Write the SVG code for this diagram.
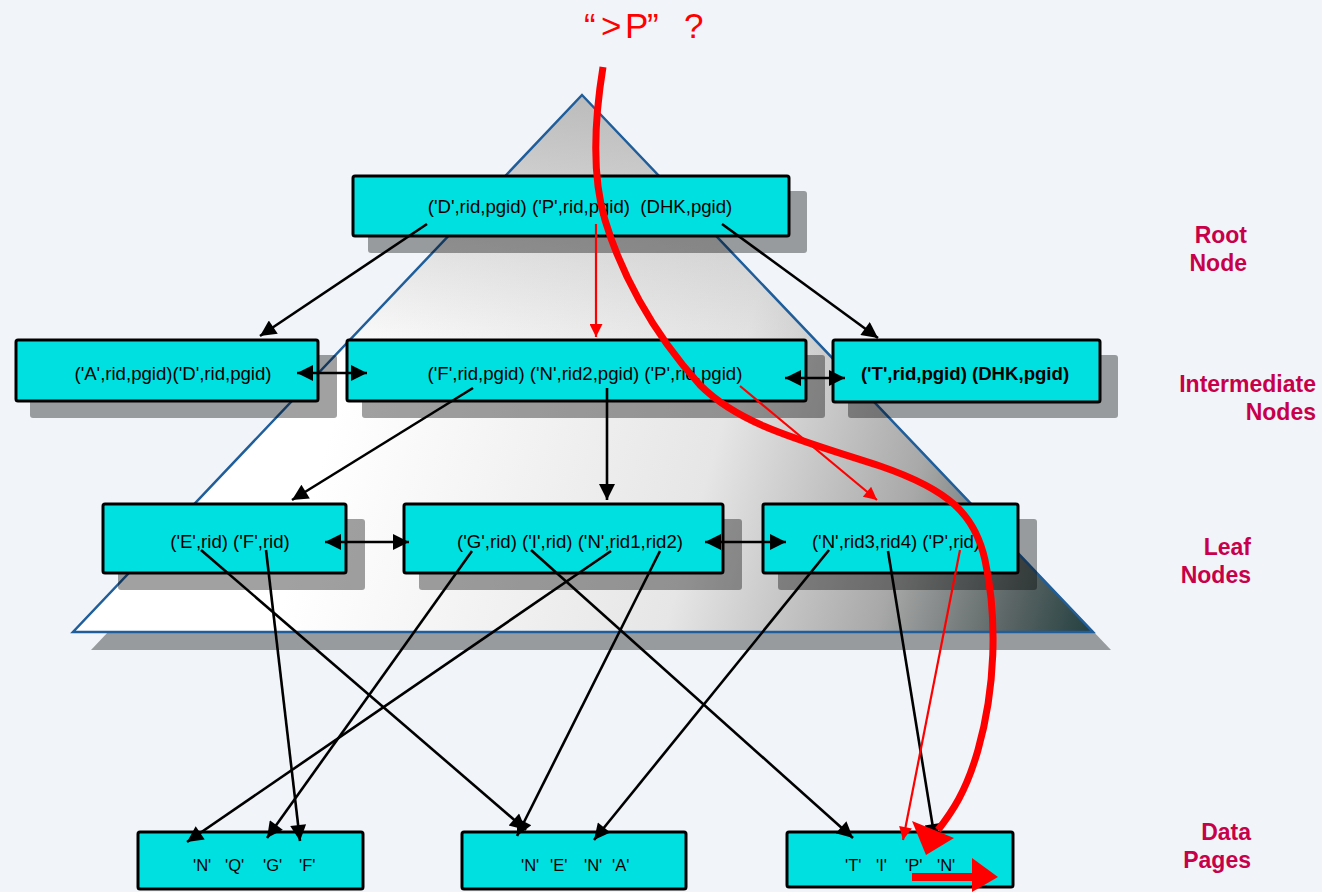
<svg xmlns="http://www.w3.org/2000/svg" width="1322" height="892" viewBox="0 0 1322 892">
  <style>
    .node rect.box { fill: #00E0E0; stroke: #000; stroke-width: 3; }
    .node rect.shadow { fill: #000; fill-opacity: 0.37; }
    .node text { font-family: "Liberation Sans", Arial, sans-serif; font-size: 18.6px; fill: #000; text-anchor: middle; }
    .node text.bold { font-weight: bold; }
    .node text.page { font-size: 16.5px; text-anchor: start; }
    .label { font-family: "Liberation Sans", Arial, sans-serif; font-size: 23px; font-weight: bold; fill: #C8004A; text-anchor: end; }
    .link { stroke: #000; stroke-width: 2.6; fill: none; }
    .link.both { marker-start: url(#ahb); marker-end: url(#ah); }
    .link.one { marker-end: url(#ah); }
    .hot { stroke: #FF0000; stroke-width: 2.2; fill: none; marker-end: url(#ahr); }
    .path { stroke: #FF0000; stroke-width: 7; fill: none; stroke-linecap: butt; }
  </style>
  <defs>
    <marker id="ah" viewBox="0 0 10 10" refX="10" refY="5" markerWidth="20" markerHeight="16" markerUnits="userSpaceOnUse" orient="auto">
      <path d="M0,0 L10,5 L0,10 z" fill="#000"/>
    </marker>
    <marker id="ahb" viewBox="0 0 10 10" refX="0" refY="5" markerWidth="20" markerHeight="16" markerUnits="userSpaceOnUse" orient="auto">
      <path d="M10,0 L0,5 L10,10 z" fill="#000"/>
    </marker>
    <marker id="ahr" viewBox="0 0 10 10" refX="10" refY="5" markerWidth="17" markerHeight="13" markerUnits="userSpaceOnUse" orient="auto">
      <path d="M0,0 L10,5 L0,10 z" fill="#FF0000"/>
    </marker>
    <linearGradient id="pyrFill" gradientUnits="userSpaceOnUse" x1="330" y1="430" x2="1085" y2="640">
      <stop offset="0" stop-color="#FFFFFF"/>
      <stop offset="0.48" stop-color="#E6E6E6"/>
      <stop offset="0.74" stop-color="#A8A8A8"/>
      <stop offset="0.9" stop-color="#5A6464"/>
      <stop offset="1" stop-color="#274242"/>
    </linearGradient>
    <linearGradient id="pyrTop" gradientUnits="userSpaceOnUse" x1="0" y1="95" x2="0" y2="360">
      <stop offset="0" stop-color="#A8A8A8" stop-opacity="0.75"/>
      <stop offset="1" stop-color="#A8A8A8" stop-opacity="0"/>
    </linearGradient>
  </defs>

  <!-- background -->
  <rect x="0" y="0" width="1322" height="892" fill="#F1F5F9"/>

  <!-- tree pyramid -->
  <g id="pyramid">
    <polygon points="600,113 1111,650 91,650" fill="#000" fill-opacity="0.37"/>
    <polygon points="582,95 1093,632 73,632" fill="url(#pyrFill)"/>
    <polygon points="582,95 1093,632 73,632" fill="url(#pyrTop)" stroke="#1F5E9A" stroke-width="2.5"/>
  </g>

  <!-- query title -->
  <text font-family="'Liberation Sans', Arial, sans-serif" font-size="35" fill="#FF0000"><tspan x="584" y="38">“</tspan><tspan x="601" y="38">&gt;</tspan><tspan x="625" y="38">P</tspan><tspan x="647" y="38">”</tspan><tspan x="684" y="38">?</tspan></text>

  <!-- level labels -->
  <text class="label" x="1247" y="243">Root</text>
  <text class="label" x="1247" y="271">Node</text>
  <text class="label" x="1316" y="392">Intermediate</text>
  <text class="label" x="1316" y="420">Nodes</text>
  <text class="label" x="1251" y="555">Leaf</text>
  <text class="label" x="1251" y="583">Nodes</text>
  <text class="label" x="1251" y="840">Data</text>
  <text class="label" x="1251" y="868">Pages</text>

  <!-- root -->
  <g id="root" class="node">
    <rect class="shadow" x="368" y="191" width="439" height="62" rx="3"/>
    <rect class="box" x="353" y="176" width="436" height="60" rx="2"/>
    <text x="580" y="213" xml:space="preserve">('D',rid,pgid) ('P',rid,pgid)  (DHK,pgid)</text>
  </g>

  <!-- intermediate nodes -->
  <g id="int-left" class="node">
    <rect class="shadow" x="30" y="355" width="307" height="63" rx="3"/>
    <rect class="box" x="16" y="340" width="302" height="61" rx="2"/>
    <text x="173" y="380">('A',rid,pgid)('D',rid,pgid)</text>
  </g>
  <g id="int-mid" class="node">
    <rect class="shadow" x="362" y="355" width="463" height="63" rx="3"/>
    <rect class="box" x="347" y="340" width="459" height="61" rx="2"/>
    <text x="585" y="380">('F',rid,pgid) ('N',rid2,pgid) ('P',rid,pgid)</text>
  </g>
  <g id="int-right" class="node">
    <rect class="shadow" x="848" y="355" width="270" height="63" rx="3"/>
    <rect class="box" x="833" y="340" width="267" height="62" rx="2"/>
    <text class="bold" x="965" y="380">('T',rid,pgid) (DHK,pgid)</text>
  </g>

  <!-- leaf nodes -->
  <g id="leaf-1" class="node">
    <rect class="shadow" x="118" y="519" width="247" height="71" rx="3"/>
    <rect class="box" x="103" y="504" width="243" height="69" rx="2"/>
    <text x="230" y="548">('E',rid) ('F',rid)</text>
  </g>
  <g id="leaf-2" class="node">
    <rect class="shadow" x="419" y="519" width="323" height="71" rx="3"/>
    <rect class="box" x="404" y="504" width="319" height="69" rx="2"/>
    <text x="570" y="548">('G',rid) ('I',rid) ('N',rid1,rid2)</text>
  </g>
  <g id="leaf-3" class="node">
    <rect class="shadow" x="778" y="519" width="259" height="71" rx="3"/>
    <rect class="box" x="763" y="504" width="255" height="69" rx="2"/>
    <text x="896" y="548">('N',rid3,rid4) ('P',rid)</text>
  </g>

  <!-- data pages -->
  <g id="page-1" class="node">
    <rect class="box" x="138" y="832" width="225" height="57" rx="2"/>
    <text class="page"><tspan x="193" y="871">'N'</tspan><tspan x="225" y="871">'Q'</tspan><tspan x="263" y="871">'G'</tspan><tspan x="299" y="871">'F'</tspan></text>
  </g>
  <g id="page-2" class="node">
    <rect class="box" x="462" y="832" width="224" height="57" rx="2"/>
    <text class="page"><tspan x="521" y="871">'N'</tspan><tspan x="550" y="871">'E'</tspan><tspan x="584" y="871">'N'</tspan><tspan x="612" y="871">'A'</tspan></text>
  </g>
  <g id="page-3" class="node">
    <rect class="box" x="787" y="832" width="226" height="55" rx="2"/>
    <text class="page"><tspan x="845" y="871">'T'</tspan><tspan x="876" y="871">'I'</tspan><tspan x="905" y="871">'P'</tspan><tspan x="937" y="871">'N'</tspan></text>
  </g>

  <!-- connectors -->
  <g id="connectors">
    <!-- root to intermediate -->
    <line class="link one" x1="427" y1="224" x2="260" y2="336"/>
    <line class="link one" x1="722" y1="224" x2="878" y2="338"/>
    <line class="hot" x1="596" y1="224" x2="596" y2="337"/>
    <!-- sibling links -->
    <line class="link both" x1="297" y1="373" x2="367" y2="373"/>
    <line class="link both" x1="785" y1="378" x2="845" y2="378"/>
    <line class="link both" x1="325" y1="542" x2="409" y2="542"/>
    <line class="link both" x1="705" y1="542" x2="786" y2="542"/>
    <!-- intermediate to leaf -->
    <line class="link one" x1="473" y1="388" x2="292" y2="500"/>
    <line class="link one" x1="607" y1="388" x2="607" y2="500"/>
    <line class="hot" x1="740" y1="386" x2="877" y2="500"/>
    <!-- leaf to data pages -->
    <line class="link one" x1="201" y1="550" x2="526" y2="830"/>
    <line class="link one" x1="266" y1="550" x2="300" y2="841"/>
    <line class="link one" x1="472" y1="551" x2="267" y2="838"/>
    <line class="link one" x1="531" y1="550" x2="853" y2="838"/>
    <line class="link one" x1="611" y1="551" x2="187" y2="842"/>
    <line class="link one" x1="660" y1="551" x2="517" y2="836"/>
    <line class="link one" x1="829" y1="550" x2="594" y2="840"/>
    <line class="link one" x1="888" y1="551" x2="935" y2="840"/>
    <line class="hot" x1="960" y1="550" x2="903" y2="840"/>
    <!-- search path -->
    <path class="path" d="M603,67 C596,110 590,170 605,220 C620,270 650,330 700,385 C740,425 800,440 880,466 C950,490 975,515 985,560 C998,620 995,690 978,750 C966,792 952,812 938,830"/>
    <polygon points="912,821 954,838 926,855" fill="#FF0000"/>
    <path d="M912,877 L975,877" stroke="#FF0000" stroke-width="8" fill="none"/>
    <polygon points="972,858 998,877 972,892" fill="#FF0000"/>
  </g>
</svg>
